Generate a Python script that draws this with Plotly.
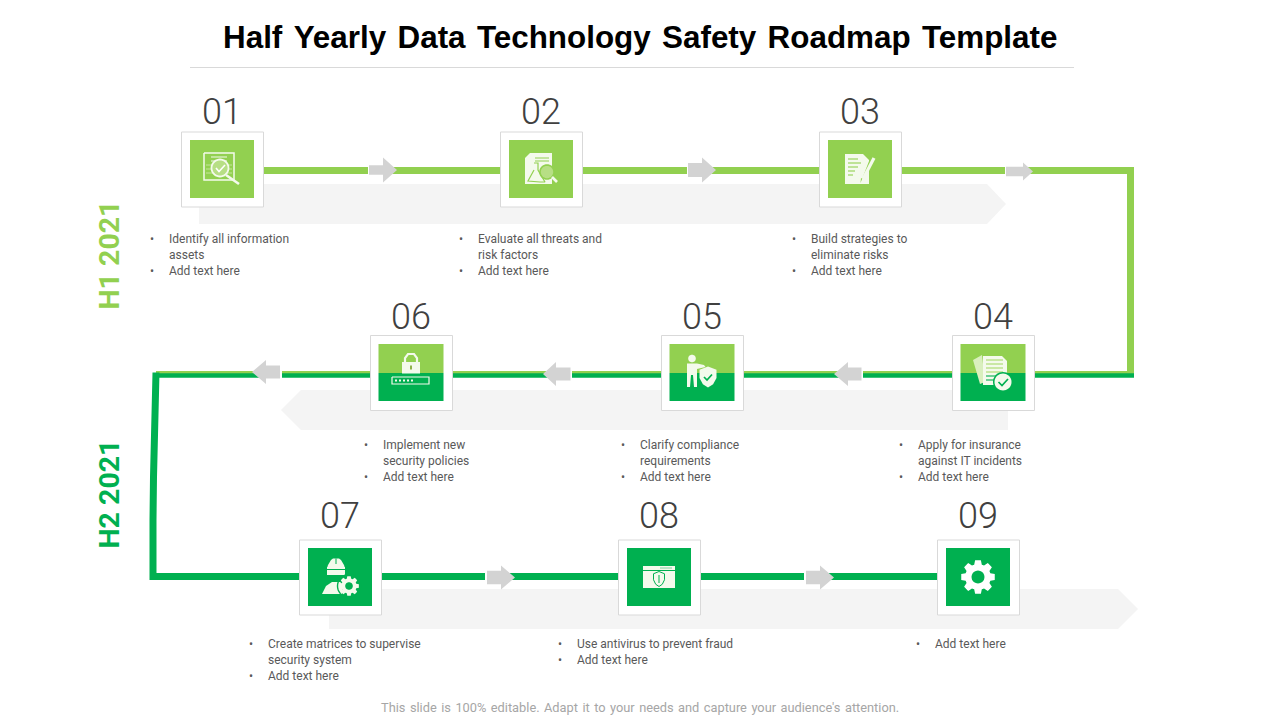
import math
import plotly.graph_objects as go

TITLE = "Half Yearly Data Technology Safety Roadmap Template"
FOOTER = "This slide is 100% editable. Adapt it to your needs and capture your audience's attention."
PERIODS = ["H1 2021", "H2 2021"]
STEP_NUMBERS = ["01", "02", "03", "04", "05", "06", "07", "08", "09"]
STEP_TEXTS = [
    [["Identify all information", "assets"], ["Add text here"]],
    [["Evaluate all threats and", "risk factors"], ["Add text here"]],
    [["Build strategies to", "eliminate risks"], ["Add text here"]],
    [["Apply for insurance", "against IT incidents"], ["Add text here"]],
    [["Clarify compliance", "requirements"], ["Add text here"]],
    [["Implement new", "security policies"], ["Add text here"]],
    [["Create matrices to supervise", "security system"], ["Add text here"]],
    [["Use antivirus to prevent fraud"], ["Add text here"]],
    [["Add text here"]],
]
CARD_X = [222.5, 541.5, 860.5, 993.5, 702.5, 411.5, 340.5, 659.5, 978.5]
CARD_Y = [169.5, 169.5, 169.5, 373, 373, 373, 577.5, 577.5, 577.5]
NUM_X = [222, 541, 860, 992.5, 701.5, 410.5, 340, 659, 978]
NUM_Y = [111.5, 111.5, 111.5, 316.5, 316.5, 316.5, 515.5, 515.5, 515.5]
BULLET_X = [152, 461, 794, 901, 623, 366, 251, 560, 918]
TEXT_X = [169, 478, 811, 918, 640, 383, 268, 577, 935]
TEXT_Y = [238.5, 238.5, 238.5, 444.5, 444.5, 444.5, 643.5, 643.5, 643.5]

LIGHT = "#92D050"
DARK = "#00B050"
GREY = "#D3D3D3"
PALE = "#F4F4F4"
BORDER = "#D9D9D9"
ICON = "#F4FAEC"
TEXT = "#595959"
FONT = "Roboto"

fig = go.Figure()


def poly(xs, ys, fill=None, line=None, width=1.0):
    fig.add_trace(go.Scatter(
        x=xs, y=ys, mode="lines",
        fill="toself" if fill else None,
        fillcolor=fill,
        line=dict(color=line or fill or "rgba(0,0,0,0)", width=width if line else 0, simplify=False),
        hoverinfo="skip", showlegend=False))


def rect(x0, y0, x1, y1, fill=None, line=None, width=1.0):
    poly([x0, x1, x1, x0, x0], [y0, y0, y1, y1, y0], fill, line, width)


def stroke(xs, ys, color, width):
    poly(xs, ys, None, color, width)


def circle(cx, cy, r, fill=None, line=None, width=1.0):
    n = 36
    xs = [cx + r * math.cos(2 * math.pi * i / n) for i in range(n + 1)]
    ys = [cy + r * math.sin(2 * math.pi * i / n) for i in range(n + 1)]
    poly(xs, ys, fill, line, width)


def gear(cx, cy, r, fill, hole, teeth=8):
    xs, ys = [], []
    step = 2 * math.pi / teeth
    for i in range(teeth):
        a = i * step
        for da, rr in [(-0.30, 0.76), (-0.17, 1.0), (0.17, 1.0), (0.30, 0.76)]:
            xs.append(cx + r * rr * math.cos(a + da * step / 0.785))
            ys.append(cy + r * rr * math.sin(a + da * step / 0.785))
    xs.append(xs[0])
    ys.append(ys[0])
    poly(xs, ys, fill)
    circle(cx, cy, r * 0.38, hole)


def hblock(tip, base, end, y0, y1):
    ym = (y0 + y1) / 2
    poly([end, base, tip, base, end, end], [y0, y0, ym, y1, y1, y0], PALE)


def arrow(end, base, tip, ym, half_head, half_shaft):
    poly([end, base, base, tip, base, base, end, end],
         [ym - half_shaft, ym - half_shaft, ym - half_head, ym, ym + half_head,
          ym + half_shaft, ym + half_shaft, ym - half_shaft], GREY)


def shield(cx, cy, w, h, fill=None, line=None, width=1.0):
    poly([cx, cx + w, cx + w, cx + w * 0.6, cx, cx - w * 0.6, cx - w, cx - w, cx],
         [cy - h, cy - h * 0.7, cy + h * 0.1, cy + h * 0.7, cy + h, cy + h * 0.7, cy + h * 0.1, cy - h * 0.7, cy - h],
         fill, line, width)


# pale background chevrons
hblock(1006, 987, 199, 184, 224)
hblock(281, 301, 1008, 390, 430)
hblock(1138, 1118, 329, 589, 629)

# rule below the title
stroke([190, 1074], [67.5, 67.5], BORDER, 1)

# connector path
stroke([264, 1130.5, 1130.5], [170.5, 170.5, 372], LIGHT, 7)
stroke([156, 1134], [372.8, 372.8], LIGHT, 3.5)
stroke([1134, 156], [375.5, 375.5], DARK, 4.4)
stroke([156, 153.5, 153, 153, 940], [372.5, 477, 520, 576.5, 576.5], DARK, 7)

# gaps around the connector arrows
for gx0, gx1, gy in [(368, 371, 170.5), (687, 690, 170.5), (1005, 1008, 170.5), (860, 863, 374.5),
                     (569, 572, 374.5), (279, 282, 374.5), (485, 488, 576.5), (804, 807, 576.5)]:
    rect(gx0, gy - 5, gx1, gy + 5, "#FFFFFF")

# connector arrows
arrow(369, 383, 397, 170, 12.5, 4.8)
arrow(688, 702, 716, 170, 12.5, 7)
arrow(1006, 1023, 1033, 171.5, 9, 4.7)
arrow(861.5, 848, 834, 374, 12, 6.5)
arrow(570.5, 556, 543, 374, 12, 6.5)
arrow(280, 266, 252, 372, 12, 6.5)
arrow(487, 501, 515, 577.5, 12, 6.8)
arrow(806, 820, 834, 577.5, 12, 6.8)

# cards
for i, (cx, cy) in enumerate(zip(CARD_X, CARD_Y)):
    rect(cx - 41, cy - 37.5, cx + 41, cy + 37.5, "#FFFFFF", BORDER, 1)
    if i < 3:
        rect(cx - 32.5, cy - 29.5, cx + 31.5, cy + 28.5, LIGHT)
    elif i < 6:
        rect(cx - 33, cy - 29, cx + 32, cy, LIGHT)
        rect(cx - 33, cy, cx + 32, cy + 28, DARK)
    else:
        rect(cx - 32.5, cy - 29.5, cx + 31.5, cy + 28.5, DARK)

# icon 01
rect(204, 153, 234, 180, None, ICON, 1.5)
for y in [157, 161]:
    stroke([211, 227], [y, y], ICON, 1)
for y in [165, 169, 173]:
    stroke([206, 232], [y, y], "#C4E59A", 1)
circle(220, 168, 8.5, "#B7DF85", ICON, 1.8)
stroke([216, 219, 225], [168, 171.5, 165], "#FFFFFF", 1.6)
stroke([226, 239], [175, 184], ICON, 2.6)

# icon 02
poly([530, 552, 552, 525, 525, 530], [153, 153, 184, 184, 158, 153], ICON)
for y in [158, 161]:
    stroke([535, 549], [y, y], LIGHT, 1)
poly([534, 538, 538, 545, 540, 528, 534], [163, 163, 170, 182, 182, 181, 170], None, LIGHT, 1.2)
circle(547, 172, 7, "#B7DF85", LIGHT, 1.6)
stroke([552, 557], [177, 182], ICON, 2.6)

# icon 03
poly([845, 863, 869, 869, 845, 845], [154, 154, 160, 184, 184, 154], ICON)
for y, x1 in [(159, 858), (163, 861), (167, 858), (171, 855), (175, 853)]:
    stroke([848, x1], [y, y], LIGHT, 1.1)
poly([871, 875, 864, 861, 860.5, 871], [156, 158, 179, 178, 183, 156], LIGHT)
stroke([874, 863], [158, 179], ICON, 3.2)

# icon 04
poly([973, 982, 985, 980, 973], [360, 355, 382, 384, 360], "#D9EFBE")
poly([983, 1002, 1007, 1007, 983, 983], [356, 356, 361, 385, 385, 356], ICON)
for y in [360, 364, 368, 372, 376, 380]:
    stroke([986, 1003], [y, y], "#A8D96C" if y < 373 else DARK, 1.1)
circle(1003, 382, 10, DARK)
circle(1003, 382, 8.5, ICON)
stroke([998.5, 1002, 1008], [382, 385.5, 379], DARK, 1.7)

# icon 05
circle(692, 358.5, 3.8, ICON)
poly([687, 697, 704, 705.5, 697, 697, 694, 693, 691, 690, 687, 687],
     [363.5, 363.5, 365, 367, 369, 387, 387, 375, 375, 387, 387, 363.5], ICON)
shield(708, 377, 8.5, 10.5, ICON)
stroke([704, 707, 712], [377, 380, 374.5], DARK, 1.7)

# icon 06
rect(402, 362, 420, 373.5, ICON)
poly([405, 405, 408, 414, 417, 417], [362, 358, 354, 354, 358, 362], None, ICON, 2.2)
rect(410, 365.5, 412, 369.5, "#8FB24A")
rect(392, 377, 429, 384, None, ICON, 1.2)
for x in [396, 400, 404, 408, 412]:
    rect(x - 1, 379.5, x + 1, 381.5, ICON)

# icon 07
poly([327, 345, 345, 327, 327], [567, 567, 575, 575, 567], ICON)
poly([328, 331, 333, 339, 341, 344, 345, 327, 328], [565, 560, 558.5, 558.5, 560, 565, 568.5, 568.5, 565], ICON)
stroke([326.5, 345.5], [569.5, 569.5], DARK, 1)
stroke([336, 336], [558.5, 564], DARK, 1)
poly([322, 326, 332, 340, 344, 342, 342, 322], [594, 586, 582, 582, 585, 590, 594, 594], ICON)
gear(349, 586, 10, ICON, DARK)
circle(349, 586, 11.5, None, DARK, 1.4)

# icon 08
rect(643, 566, 675, 588, ICON)
stroke([643, 675], [570.5, 570.5], DARK, 1)
stroke([660, 672], [568, 568], "#8FD6AD", 1.2)
shield(659, 579, 5.5, 7.5, None, DARK, 1)
stroke([659, 659], [575, 583], DARK, 1)

# icon 09
gear(978, 577, 17, "#FFFFFF", DARK)

annotations = []


def label(x, y, text, size, color=TEXT, anchor="left", family=FONT, angle=0):
    annotations.append(dict(x=x, y=y, text=text, xref="x", yref="y", showarrow=False,
                            xanchor=anchor, yanchor="middle", textangle=angle,
                            font=dict(family=family, size=size, color=color)))


label(639.5, 37, "<b>" + TITLE.replace(" ", "\u00a0\u200a") + "</b>", 31.4, "#000000", "center", "Liberation Sans")
label(639.5, 707, FOOTER.replace(" ", "\u00a0\u200a"), 12.8, "#A6A6A6", "center")
label(108.5, 255, "<b>" + PERIODS[0] + "</b>", 28.5, LIGHT, "center", "Roboto", -90)
label(108.5, 494, "<b>" + PERIODS[1] + "</b>", 28.5, DARK, "center", "Roboto", -90)

for i, num in enumerate(STEP_NUMBERS):
    label(NUM_X[i], NUM_Y[i], num, 36, "#404040", "center", "Roboto Light, Roboto")
    row = 0
    for item in STEP_TEXTS[i]:
        label(BULLET_X[i], TEXT_Y[i] + row * 16, "•", 12, TEXT, "center")
        for ln in item:
            label(TEXT_X[i] - 2, TEXT_Y[i] + row * 16, ln, 12, TEXT)
            row += 1

fig.update_layout(
    width=1280, height=720, margin=dict(l=0, r=0, t=0, b=0),
    paper_bgcolor="#FFFFFF", plot_bgcolor="#FFFFFF",
    xaxis=dict(range=[0, 1280], visible=False, fixedrange=True),
    yaxis=dict(range=[720, 0], visible=False, fixedrange=True),
    showlegend=False, annotations=annotations, hovermode=False,
)
fig.write_html("out.html", config={"displayModeBar": False},
               post_script="document.body.style.margin='0';document.body.style.overflow='hidden';")
